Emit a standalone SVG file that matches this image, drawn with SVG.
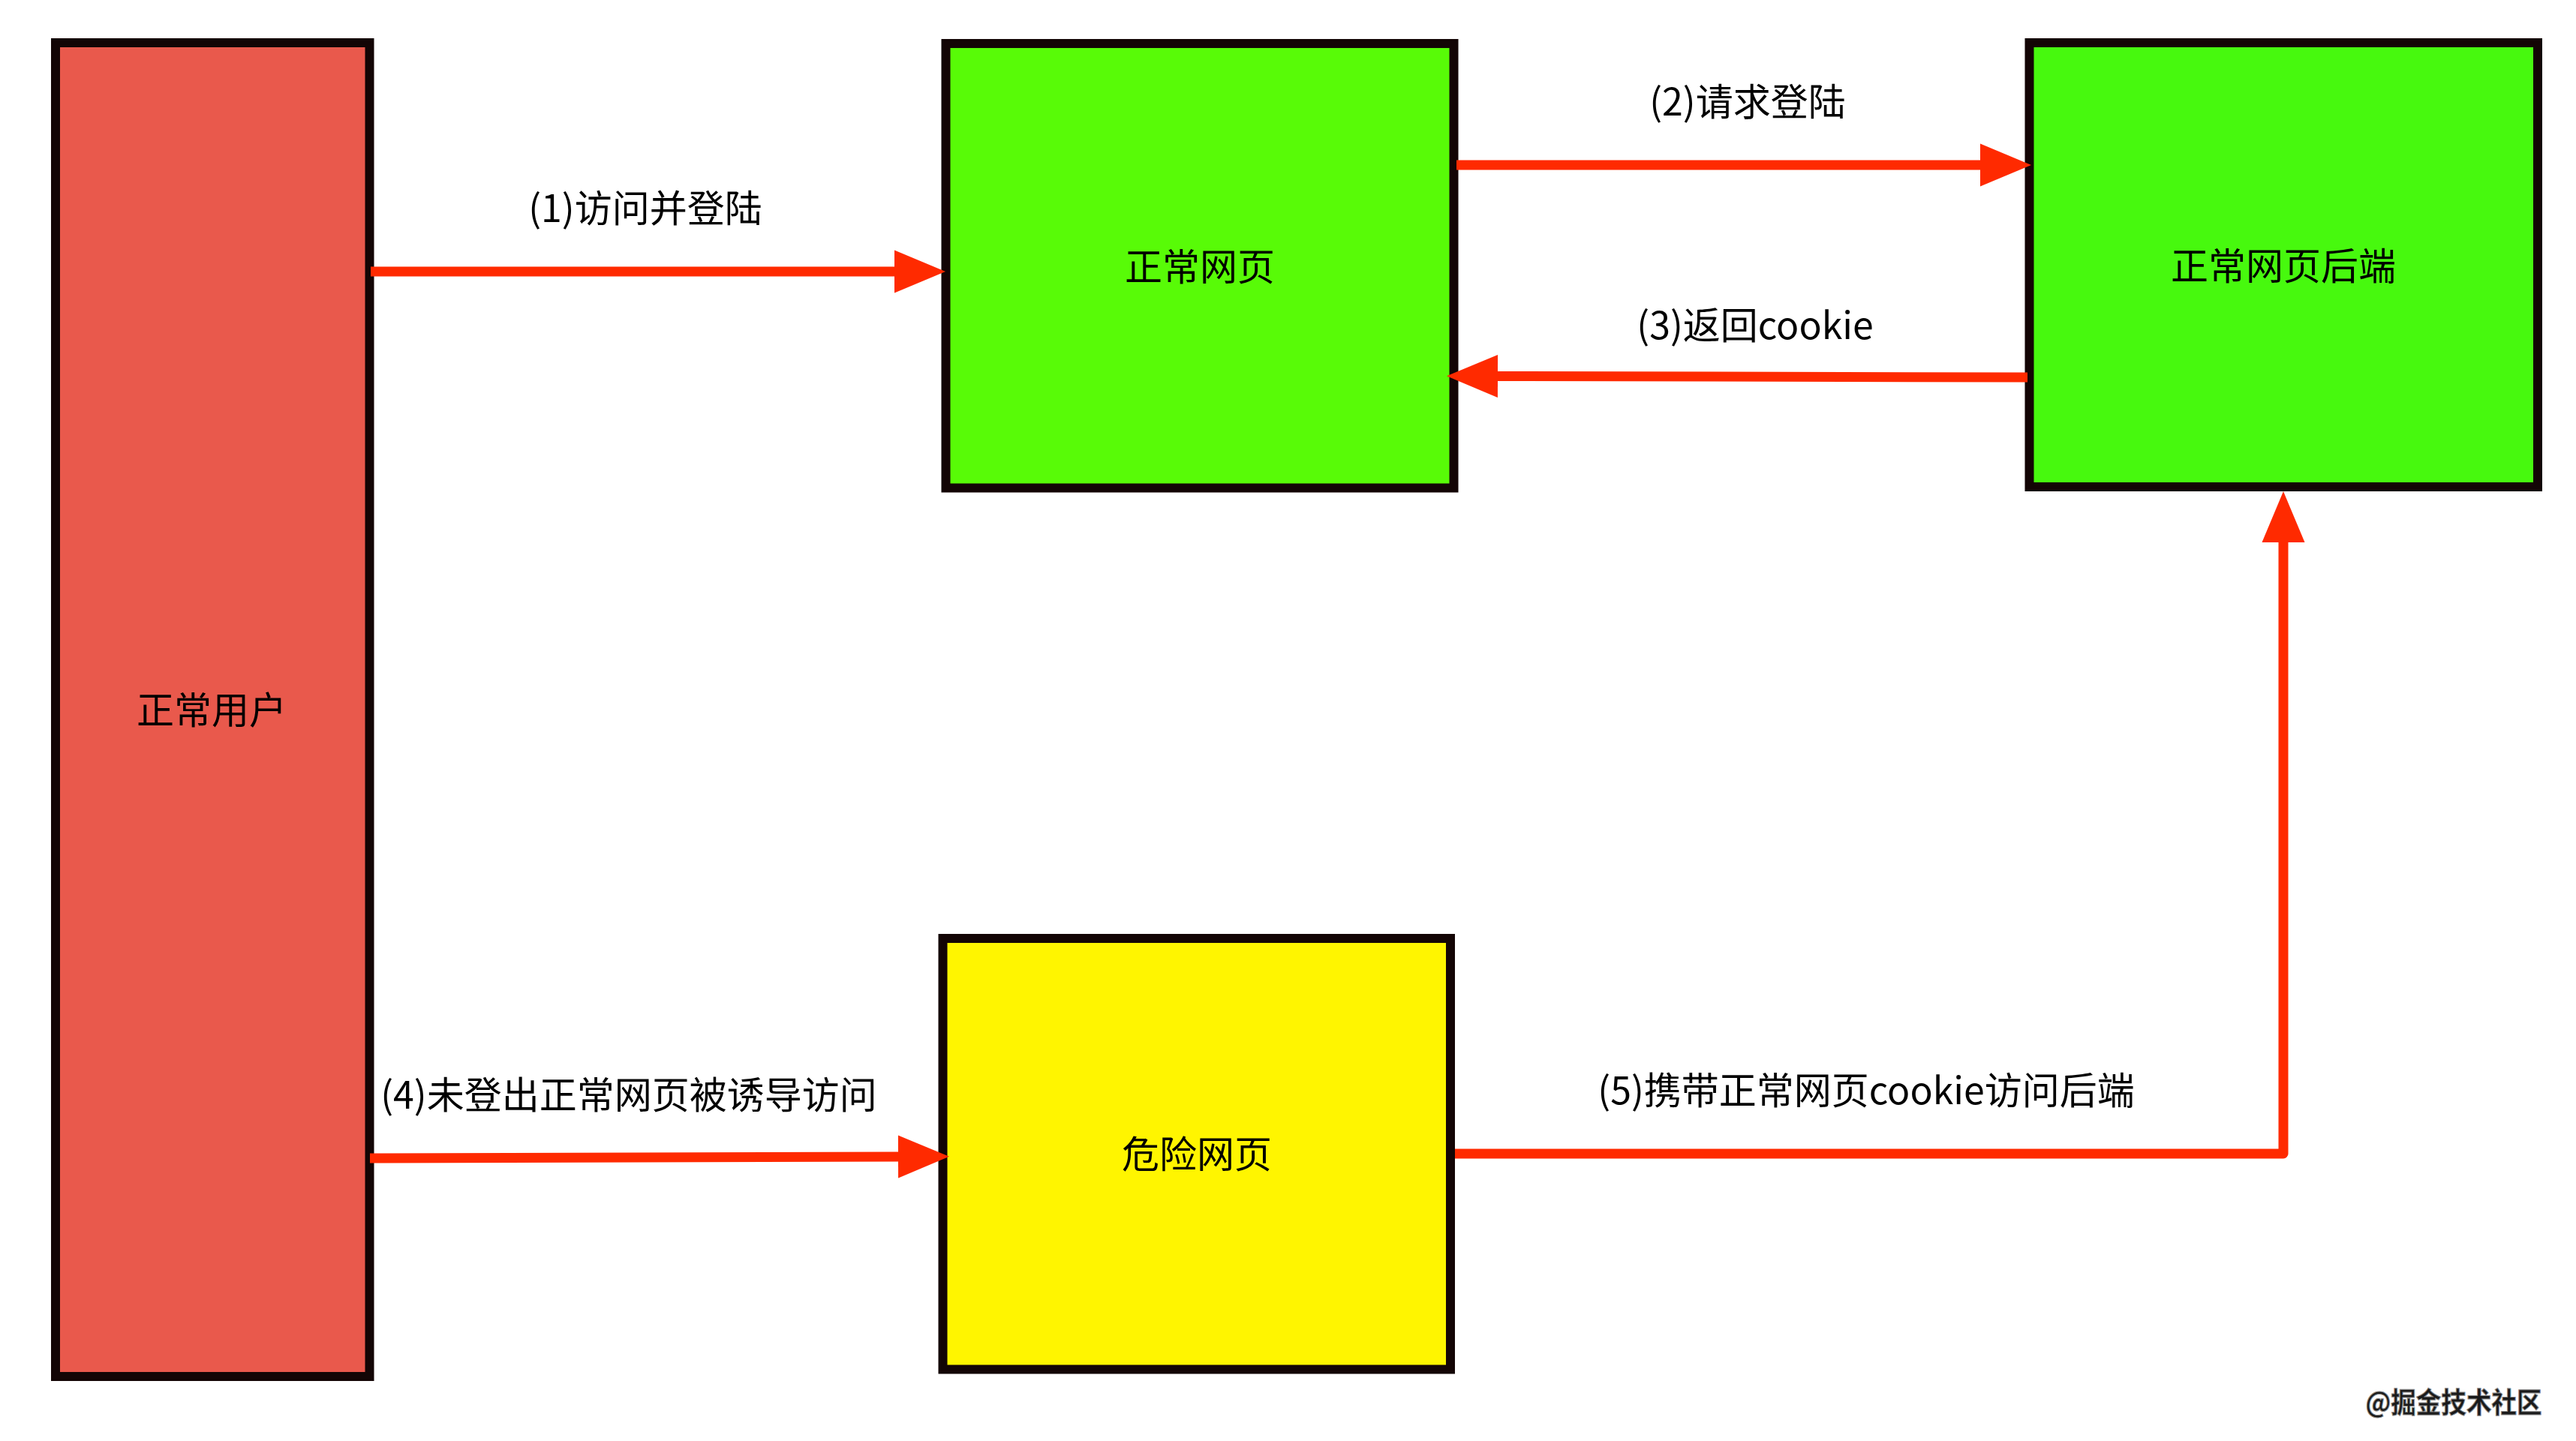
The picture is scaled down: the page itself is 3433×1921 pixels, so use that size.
<svg xmlns="http://www.w3.org/2000/svg" width="3433" height="1921" viewBox="0 0 3433 1921">
<defs>
<style>
.box{stroke:#130505;stroke-width:12}
.lbl{font-family:"Noto Sans CJK SC","Liberation Sans",sans-serif;font-size:50px;fill:#000;text-anchor:middle;dominant-baseline:central}
.conn{fill:none;stroke:#FF2A00;stroke-width:13;stroke-linejoin:round}
.wm{font-family:"Noto Sans CJK SC","Liberation Sans",sans-serif;font-size:38px;font-weight:bold;fill:#1a1a1a;stroke:#888;stroke-width:1;text-anchor:middle;dominant-baseline:central}
</style>
<marker id="ah" markerUnits="userSpaceOnUse" markerWidth="70" markerHeight="60" viewBox="0 -30 70 60" refX="0" refY="0" orient="auto" overflow="visible">
<path d="M0,-28.5 L68,0 L0,28.5 Z" fill="#FF2A00"/>
</marker>
</defs>
<rect width="3433" height="1921" fill="#fff"/>
<g id="node-user">
<rect class="box" x="74" y="57" width="418.5" height="1778" fill="#E9594C"/>
<text class="lbl" x="282" y="943">正常用户</text>
</g>
<g id="node-normal-page">
<rect class="box" x="1260.5" y="58" width="677" height="592.5" fill="#58FB07"/>
<text class="lbl" x="1599" y="352">正常网页</text>
</g>
<g id="node-backend">
<rect class="box" x="2704.5" y="57" width="677.5" height="592" fill="#47F90E"/>
<text class="lbl" x="3043" y="351">正常网页后端</text>
</g>
<g id="node-danger-page">
<rect class="box" x="1256.5" y="1251" width="676.5" height="574.5" fill="#FFF500"/>
<text class="lbl" x="1595" y="1535">危险网页</text>
</g>
<g id="connectors">
<path class="conn" d="M494,362 H1192" marker-end="url(#ah)"/>
<path class="conn" d="M1941,220 H2639" marker-end="url(#ah)"/>
<path class="conn" d="M2702,503 L1996,501.5" marker-end="url(#ah)"/>
<path class="conn" d="M493,1544 L1197,1542" marker-end="url(#ah)"/>
<path class="conn" d="M1939,1538 H3043 V723" marker-end="url(#ah)"/>
<text class="lbl" x="860" y="274">(1)访问并登陆</text>
<text class="lbl" x="2329" y="132">(2)请求登陆</text>
<text class="lbl" x="2339" y="430">(3)返回cookie</text>
<text class="lbl" x="838" y="1456">(4)未登出正常网页被诱导访问</text>
<text class="lbl" x="2487" y="1450">(5)携带正常网页cookie访问后端</text>
</g>
<text class="wm" x="3270" y="1866" textLength="235" lengthAdjust="spacingAndGlyphs">@掘金技术社区</text>
</svg>
